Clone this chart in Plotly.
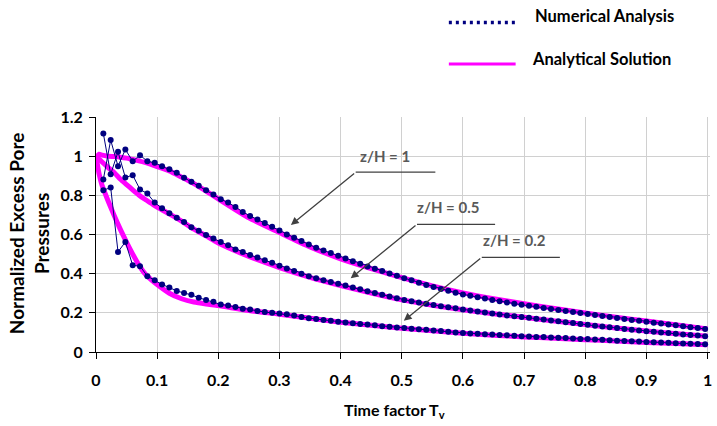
import plotly.graph_objects as go

# ---------------- data ----------------
num_T = [0.012, 0.024, 0.036, 0.048, 0.060, 0.072, 0.084, 0.096, 0.108, 0.120,
         0.132, 0.144, 0.156, 0.168, 0.180, 0.192, 0.204, 0.216, 0.228, 0.240,
         0.252, 0.264, 0.276, 0.288, 0.300, 0.312, 0.324, 0.336, 0.348, 0.360,
         0.372, 0.384, 0.396, 0.408, 0.420, 0.432, 0.444, 0.456, 0.468, 0.480,
         0.492, 0.504, 0.516, 0.528, 0.540, 0.552, 0.564, 0.576, 0.588, 0.600,
         0.612, 0.624, 0.636, 0.648, 0.660, 0.672, 0.684, 0.696, 0.708, 0.720,
         0.732, 0.744, 0.756, 0.768, 0.780, 0.792, 0.804, 0.816, 0.828, 0.840,
         0.852, 0.864, 0.876, 0.888, 0.900, 0.912, 0.924, 0.936, 0.948, 0.960,
         0.972, 0.984, 0.996]

num_z10 = [0.881, 1.082, 0.949, 1.034, 0.974, 1.005, 0.974, 0.966, 0.948, 0.933,
           0.915, 0.890, 0.869, 0.849, 0.826, 0.804, 0.780, 0.763, 0.741, 0.715,
           0.695, 0.676, 0.659, 0.640, 0.620, 0.600, 0.584, 0.567, 0.549, 0.532,
           0.518, 0.505, 0.491, 0.478, 0.464, 0.451, 0.437, 0.425, 0.413, 0.401,
           0.389, 0.377, 0.366, 0.354, 0.342, 0.332, 0.322, 0.313, 0.303, 0.294,
           0.287, 0.280, 0.273, 0.266, 0.259, 0.253, 0.247, 0.241, 0.236, 0.231,
           0.225, 0.220, 0.215, 0.210, 0.204, 0.199, 0.194, 0.189, 0.184, 0.179,
           0.174, 0.169, 0.164, 0.159, 0.155, 0.150, 0.145, 0.140, 0.136, 0.131,
           0.127, 0.122, 0.118]

num_z05 = [1.116, 0.908, 1.022, 0.891, 0.903, 0.830, 0.809, 0.763, 0.734, 0.709,
           0.685, 0.664, 0.637, 0.619, 0.597, 0.579, 0.562, 0.545, 0.524, 0.511,
           0.495, 0.482, 0.469, 0.456, 0.440, 0.426, 0.414, 0.400, 0.387, 0.377,
           0.367, 0.357, 0.348, 0.339, 0.329, 0.320, 0.310, 0.301, 0.292, 0.283,
           0.274, 0.266, 0.259, 0.253, 0.246, 0.240, 0.234, 0.228, 0.223, 0.217,
           0.212, 0.207, 0.202, 0.197, 0.192, 0.187, 0.183, 0.179, 0.175, 0.170,
           0.166, 0.161, 0.157, 0.152, 0.148, 0.143, 0.139, 0.134, 0.130, 0.126,
           0.122, 0.118, 0.114, 0.110, 0.106, 0.103, 0.100, 0.097, 0.093, 0.090,
           0.087, 0.084, 0.081]

num_z02 = [0.826, 0.840, 0.511, 0.562, 0.443, 0.438, 0.387, 0.366, 0.345, 0.329,
           0.312, 0.301, 0.292, 0.277, 0.265, 0.256, 0.243, 0.237, 0.230, 0.221,
           0.217, 0.210, 0.204, 0.200, 0.197, 0.193, 0.186, 0.179, 0.172, 0.168,
           0.164, 0.159, 0.155, 0.151, 0.147, 0.143, 0.140, 0.136, 0.132, 0.129,
           0.125, 0.122, 0.119, 0.116, 0.113, 0.110, 0.107, 0.103, 0.100, 0.097,
           0.095, 0.093, 0.091, 0.089, 0.087, 0.085, 0.083, 0.080, 0.079, 0.077,
           0.076, 0.074, 0.073, 0.071, 0.069, 0.067, 0.066, 0.064, 0.062, 0.060,
           0.058, 0.056, 0.055, 0.053, 0.051, 0.050, 0.048, 0.047, 0.045, 0.044,
           0.042, 0.041, 0.039]

ana_T = [0.0, 0.005, 0.01, 0.02, 0.03, 0.04, 0.05, 0.06, 0.07, 0.08, 0.09, 0.10,
         0.12, 0.14, 0.16, 0.18, 0.20, 0.25, 0.30, 0.35, 0.40, 0.45, 0.50, 0.55,
         0.60, 0.65, 0.70, 0.75, 0.80, 0.85, 0.90, 0.95, 1.00]

ana_z10 = [0.99, 1.01, 1.005, 1.0, 0.998, 0.995, 0.99, 0.983, 0.976, 0.968, 0.958, 0.947,
           0.925, 0.893, 0.860, 0.822, 0.782, 0.685, 0.610, 0.537, 0.476, 0.426, 0.380, 0.338,
           0.302, 0.272, 0.246, 0.222, 0.199, 0.178, 0.158, 0.138, 0.118]

ana_z05 = [1.0, 0.985, 0.97, 0.942, 0.915, 0.882, 0.855, 0.828, 0.802, 0.780, 0.760, 0.740,
           0.705, 0.668, 0.628, 0.593, 0.556, 0.488, 0.431, 0.381, 0.339, 0.301, 0.266, 0.239,
           0.216, 0.195, 0.177, 0.158, 0.140, 0.123, 0.107, 0.093, 0.080]

ana_z02 = [1.0, 0.91, 0.85, 0.77, 0.695, 0.625, 0.56, 0.50, 0.445, 0.40, 0.37, 0.345,
           0.30, 0.272, 0.255, 0.245, 0.237, 0.212, 0.193, 0.172, 0.152, 0.137, 0.121, 0.108,
           0.096, 0.086, 0.077, 0.070, 0.063, 0.056, 0.049, 0.043, 0.037]

x_ticks = [0, 0.1, 0.2, 0.3, 0.4, 0.5, 0.6, 0.7, 0.8, 0.9, 1]
x_tick_labels = ["0", "0.1", "0.2", "0.3", "0.4", "0.5", "0.6", "0.7", "0.8", "0.9", "1"]
y_ticks = [0, 0.2, 0.4, 0.6, 0.8, 1.0, 1.2]
y_tick_labels = ["0", "0.2", "0.4", "0.6", "0.8", "1", "1.2"]

legend_labels = ["Numerical Analysis", "Analytical Solution"]
curve_labels = ["z/H = 1", "z/H = 0.5", "z/H = 0.2"]

# ---------------- figure ----------------
W, H = 717, 426
ML, MR, MT, MB = 96, 5, 117, 74
PW, PH = W - ML - MR, H - MT - MB
X_MAX = 1.004

def px(x):
    return (x - ML) / PW

def py(y):
    return (H - MB - y) / PH

FONT = "Lato"
MAGENTA = "#FF00FF"
NAVY = "#000080"
GREY = "#595959"

fig = go.Figure()

for ana in (ana_z10, ana_z05, ana_z02):
    fig.add_trace(go.Scatter(x=ana_T, y=ana, mode="lines",
                             line=dict(color=MAGENTA, width=5, shape="spline", smoothing=0.6),
                             showlegend=False, hoverinfo="skip"))

for num in (num_z10, num_z05, num_z02):
    fig.add_trace(go.Scatter(x=num_T, y=num, mode="lines+markers",
                             line=dict(color=NAVY, width=1),
                             marker=dict(color=NAVY, size=6),
                             showlegend=False, cliponaxis=False))

axis_font = dict(family=FONT, size=16, color="black", weight=700)

fig.update_xaxes(range=[0, X_MAX], tickvals=x_ticks, ticktext=x_tick_labels,
                 showgrid=True, gridcolor="#d0d0d0", gridwidth=1,
                 showline=True, linecolor="black", linewidth=1,
                 ticks="outside", ticklen=6, tickcolor="black",
                 tickfont=axis_font, ticklabelstandoff=8, zeroline=False,
                 ticklabeloverflow="allow")
fig.update_yaxes(range=[0, 1.2], tickvals=y_ticks, ticktext=y_tick_labels,
                 showgrid=True, gridcolor="#d0d0d0", gridwidth=1,
                 showline=True, linecolor="black", linewidth=1,
                 ticks="outside", ticklen=6, tickcolor="black",
                 tickfont=axis_font, ticklabelstandoff=3, zeroline=False)

shapes = []
annotations = []

# legend (drawn manually, Excel style)
shapes.append(dict(type="line", xref="paper", yref="paper",
                   x0=px(450), x1=px(517), y0=py(22.5), y1=py(22.5),
                   line=dict(color=NAVY, width=3.5, dash="3px,4px")))
shapes.append(dict(type="line", xref="paper", yref="paper",
                   x0=px(450), x1=px(517), y0=py(64), y1=py(64),
                   line=dict(color=MAGENTA, width=3)))
annotations.append(dict(xref="paper", yref="paper", x=px(534), y=py(16),
                        text="<b>" + legend_labels[0] + "</b>", showarrow=False,
                        xanchor="left", yanchor="middle",
                        font=dict(family=FONT, size=16.5, color="black")))
annotations.append(dict(xref="paper", yref="paper", x=px(531), y=py(59),
                        text="<b>" + legend_labels[1] + "</b>", showarrow=False,
                        xanchor="left", yanchor="middle",
                        font=dict(family=FONT, size=16.5, color="black")))

# curve call-outs: (label pos), (tail), (line end), (arrow head) in data units
callouts = [
    (curve_labels[0], (0.4723, 1.001), (0.4246, 0.918), 0.5549, (0.3187, 0.6486)),
    (curve_labels[1], (0.575, 0.741), (0.5249, 0.652), 0.6526, (0.4165, 0.3764)),
    (curve_labels[2], (0.684, 0.572), (0.6308, 0.4837), 0.7585, (0.5033, 0.160)),
]
for label, tpos, tail, xend, head in callouts:
    annotations.append(dict(x=tpos[0], y=tpos[1], xref="x", yref="y",
                            text="<b>" + label + "</b>", showarrow=False,
                            font=dict(family=FONT, size=15, color=GREY)))
    shapes.append(dict(type="line", xref="x", yref="y",
                       x0=tail[0], x1=xend, y0=tail[1], y1=tail[1],
                       line=dict(color="#404040", width=1.3)))
    annotations.append(dict(x=head[0], y=head[1], xref="x", yref="y",
                            ax=tail[0], ay=tail[1], axref="x", ayref="y",
                            text="", showarrow=True, arrowhead=2, arrowsize=1.2,
                            arrowwidth=1.3, arrowcolor="#404040", standoff=0))

# axis titles
annotations.append(dict(xref="paper", yref="paper", x=px(395), y=py(410),
                        text="<b>Time factor T<sub>v</sub></b>", showarrow=False,
                        xanchor="center", yanchor="middle",
                        font=dict(family=FONT, size=16, color="black")))
annotations.append(dict(xref="paper", yref="paper", x=px(29), y=py(233),
                        text="<b>Normalized Excess Pore<br>Pressures</b>", showarrow=False,
                        xanchor="center", yanchor="middle", textangle=-90,
                        font=dict(family=FONT, size=19, color="black")))

fig.update_layout(width=W, height=H,
                  margin=dict(l=ML, r=MR, t=MT, b=MB, pad=0),
                  plot_bgcolor="white", paper_bgcolor="white",
                  showlegend=False, shapes=shapes, annotations=annotations)

fig.write_html("out.html", config={"displayModeBar": False},
               post_script="document.body.style.margin='0';document.body.style.overflow='hidden';")
